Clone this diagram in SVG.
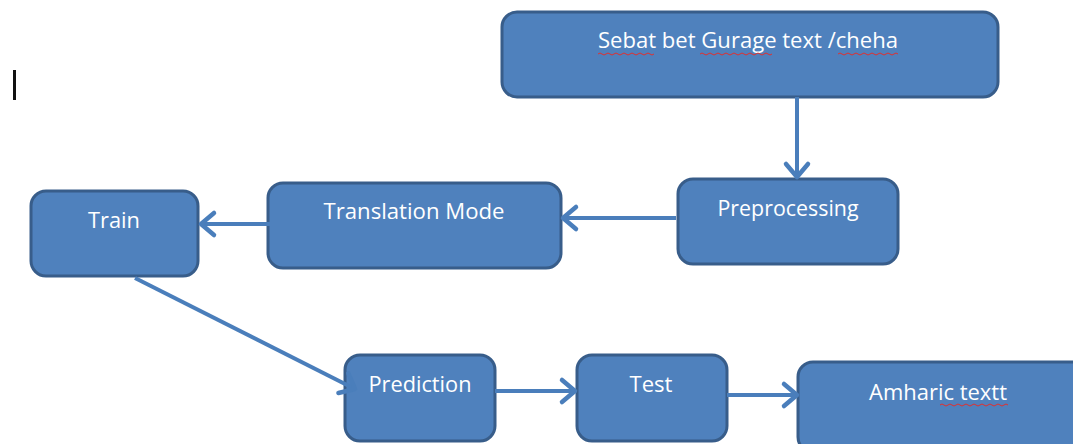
<svg xmlns="http://www.w3.org/2000/svg" width="1073" height="444" viewBox="0 0 1073 444">
  <style>
    .box { fill: #4F81BD; stroke: #385D8A; stroke-width: 3; }
    .lbl { fill: #FFFFFF; font-family: "Open Sans", "Liberation Sans", sans-serif; font-size: 22px; text-anchor: middle; }
    .edge { fill: none; stroke: #4A7EBB; stroke-width: 4; }
    .squig { fill: none; stroke: #E03030; stroke-width: 1; }
  </style>
  <defs>
    <marker id="chev" viewBox="-16 -14 20 28" refX="0" refY="0" markerWidth="20" markerHeight="28" markerUnits="userSpaceOnUse" orient="auto" overflow="visible">
      <path d="M-13,-11 L0,0 L-13,11" fill="none" stroke="#4A7EBB" stroke-width="4.5" stroke-linecap="round" stroke-linejoin="round"/>
    </marker>
  </defs>

  <rect width="1073" height="444" fill="#FFFFFF"/>

  <!-- text cursor -->
  <rect x="13" y="70" width="3" height="30" fill="#111111"/>

  <g id="sebat">
    <rect class="box" x="502" y="12" width="496" height="85" rx="15"/>
    <text class="lbl" x="748" y="48" textLength="300" lengthAdjust="spacingAndGlyphs">Sebat bet Gurage text /cheha</text>
    <path class="squig" d="M598,54 q2,-2 4,0 t4,0 t4,0 t4,0 t4,0 t4,0 t4,0 t4,0 t4,0 t4,0 t4,0 t4,0 t4,0 t4,0"/>
    <path class="squig" d="M700,54 q2,-2 4,0 t4,0 t4,0 t4,0 t4,0 t4,0 t4,0 t4,0 t4,0 t4,0 t4,0 t4,0 t4,0 t4,0 t4,0 t4,0 t4,0 t4,0"/>
    <path class="squig" d="M838,54 q2,-2 4,0 t4,0 t4,0 t4,0 t4,0 t4,0 t4,0 t4,0 t4,0 t4,0 t4,0 t4,0 t4,0 t4,0 t4,0"/>
  </g>

  <g id="preprocessing">
    <rect class="box" x="678" y="179" width="220" height="85" rx="15"/>
    <text class="lbl" x="788" y="216" textLength="141" lengthAdjust="spacingAndGlyphs">Preprocessing</text>
  </g>

  <g id="translation">
    <rect class="box" x="268" y="183" width="293" height="85" rx="15"/>
    <text class="lbl" x="414" y="219" textLength="181" lengthAdjust="spacingAndGlyphs">Translation Mode</text>
  </g>

  <g id="train">
    <rect class="box" x="31" y="191" width="167" height="85" rx="15"/>
    <text class="lbl" x="114" y="228" textLength="52" lengthAdjust="spacingAndGlyphs">Train</text>
  </g>

  <g id="prediction">
    <rect class="box" x="345" y="355" width="150" height="86" rx="15"/>
    <text class="lbl" x="420" y="392" textLength="103" lengthAdjust="spacingAndGlyphs">Prediction</text>
  </g>

  <g id="test">
    <rect class="box" x="577" y="355" width="150" height="86" rx="15"/>
    <text class="lbl" x="651" y="392" textLength="43" lengthAdjust="spacingAndGlyphs">Test</text>
  </g>

  <g id="amharic">
    <rect class="box" x="798" y="362" width="290" height="90" rx="15"/>
    <text class="lbl" x="938" y="400" textLength="138" lengthAdjust="spacingAndGlyphs">Amharic textt</text>
    <path class="squig" d="M940,405 q2,-2 4,0 t4,0 t4,0 t4,0 t4,0 t4,0 t4,0 t4,0 t4,0 t4,0 t4,0 t4,0 t4,0 t4,0 t4,0 t4,0 t4,0"/>
  </g>

  <g id="connectors">
    <line class="edge" x1="797" y1="97" x2="797" y2="177" marker-end="url(#chev)"/>
    <line class="edge" x1="676" y1="218" x2="563" y2="218" marker-end="url(#chev)"/>
    <line class="edge" x1="270" y1="224" x2="201" y2="224" marker-end="url(#chev)"/>
    <line class="edge" x1="135" y1="278" x2="355" y2="389" marker-end="url(#chev)"/>
    <line class="edge" x1="495" y1="391" x2="575" y2="391" marker-end="url(#chev)"/>
    <line class="edge" x1="727" y1="395" x2="797" y2="395" marker-end="url(#chev)"/>
  </g>
</svg>
